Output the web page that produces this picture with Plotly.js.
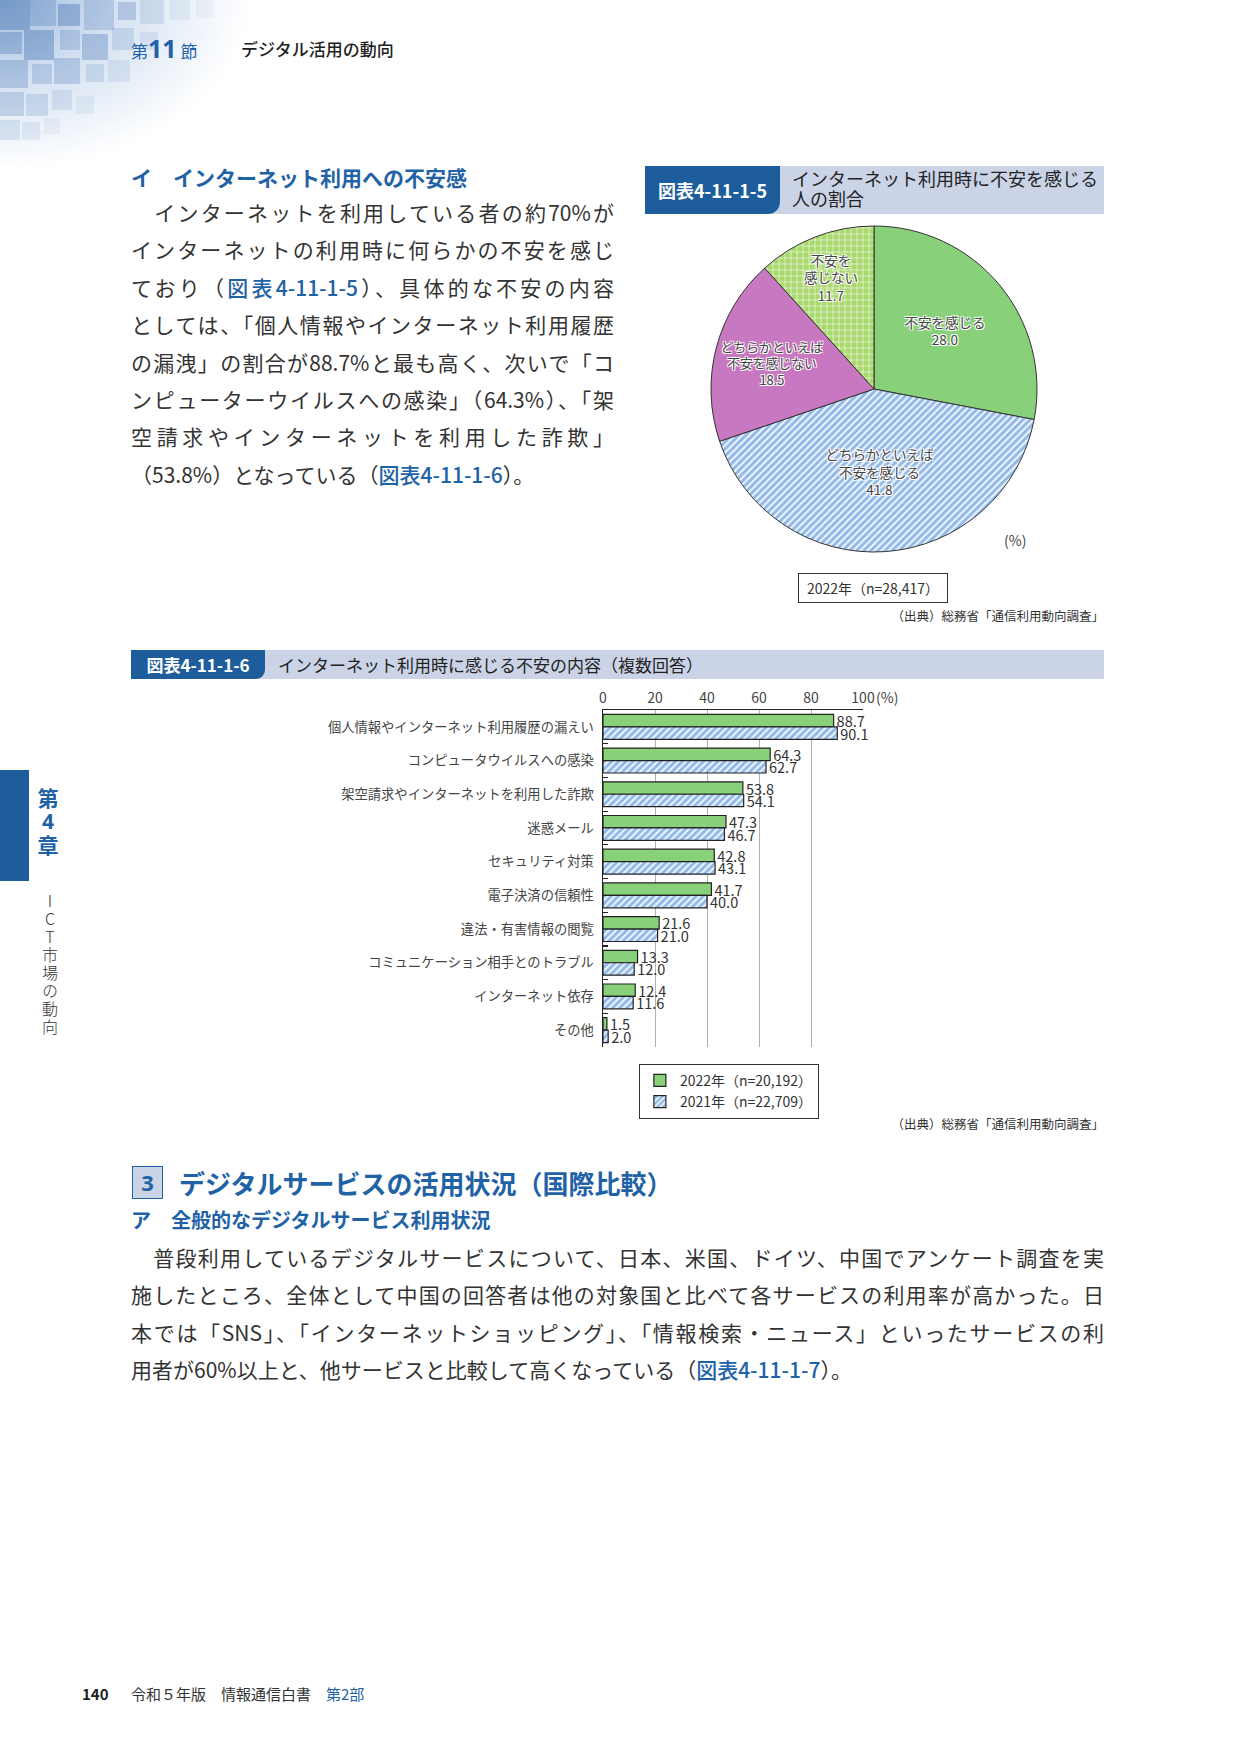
<!DOCTYPE html>
<html lang="ja">
<head>
<meta charset="utf-8">
<script src="https://cdn.plot.ly/plotly-3.0.1.min.js"></script>
<style>
  html, body { margin:0; padding:0; background:#fff; }
  #page { position:relative; width:1241px; height:1754px; overflow:hidden; background:#fff;
          font-family:"Noto Sans CJK JP","Noto Sans",sans-serif; color:#333; }
  .abs { position:absolute; white-space:nowrap; }
  .blue { color:#1f62a6; }
  .link { color:#1f62a6; font-weight:500; }
  .jline { position:absolute; text-align:justify; text-align-last:justify; white-space:nowrap; }
  .lline { position:absolute; text-align:left; white-space:nowrap; }
  .p1 { left:131px; width:483px; font-size:21px; height:37.4px; line-height:37.4px; color:#333; }
  .p2 { left:131px; width:973px; font-size:21px; height:37.4px; line-height:37.4px; color:#333; }
  .banner-dark { position:absolute; background:#1d5d9b; color:#fff; font-weight:700; border-bottom-right-radius:12px; }
  .banner-light { position:absolute; background:#cbd4e7; }
</style>
</head>
<body>
<div id="page">
  <div id="deco" class="abs" style="left:0;top:0;width:260px;height:175px;"></div>

  <div class="abs" style="left:131px;top:35px;font-size:17px;line-height:27px;">
    <span class="blue">第</span><span class="blue" style="font-size:25px;font-weight:700;font-family:'Noto Sans','Noto Sans CJK JP';">11</span><span class="blue"> 節</span>
  </div>
  <div class="abs" style="left:241px;top:36px;font-size:17px;line-height:26px;color:#222;font-weight:500;">デジタル活用の動向</div>

  <div class="abs blue" style="left:131px;top:164px;font-size:21px;font-weight:700;line-height:26px;">イ　インターネット利用への不安感</div>

  <div class="jline p1" style="top:194px;">　インターネットを利用している者の約70%が</div>
  <div class="jline p1" style="top:231.4px;">インターネットの利用時に何らかの不安を感じ</div>
  <div class="jline p1" style="top:268.8px;">ており（<span class="link">図表4-11-1-5</span>）、具体的な不安の内容</div>
  <div class="jline p1" style="top:306.2px;">としては、「個人情報やインターネット利用履歴</div>
  <div class="jline p1" style="top:343.6px;">の漏洩」の割合が88.7%と最も高く、次いで「コ</div>
  <div class="jline p1" style="top:381px;">ンピューターウイルスへの感染」（64.3%）、「架</div>
  <div class="jline p1" style="top:418.4px;">空請求やインターネットを利用した詐欺」</div>
  <div class="lline p1" style="top:455.8px;">（53.8%）となっている（<span class="link">図表4-11-1-6</span>）。</div>

  <!-- pie banner -->
  <div class="banner-light" style="left:645px;top:166px;width:459px;height:48px;"></div>
  <div class="banner-dark" style="left:645px;top:166px;width:135px;height:48px;font-size:18px;line-height:48px;text-align:center;">図表4-11-1-5</div>
  <div class="abs" style="left:792px;top:168px;font-size:18px;line-height:20px;color:#222;">インターネット利用時に不安を感じる<br>人の割合</div>

  <div id="pie" class="abs" style="left:704px;top:219px;width:340px;height:340px;"></div>
  <div class="abs" style="left:1004px;top:530px;font-size:14px;color:#444;">(%)</div>
  <div class="abs" style="left:798px;top:573px;width:148px;height:28px;border:1px solid #333;font-size:14px;line-height:28px;text-align:center;color:#333;">2022年（n=28,417）</div>
  <div class="abs" style="right:137px;top:606px;font-size:12.5px;color:#333;">（出典）総務省「通信利用動向調査」</div>

  <!-- bar banner -->
  <div class="banner-light" style="left:131px;top:650px;width:973px;height:29px;"></div>
  <div class="banner-dark" style="left:131px;top:650px;width:134px;height:29px;font-size:17px;line-height:29px;text-align:center;border-bottom-right-radius:9px;">図表4-11-1-6</div>
  <div class="abs" style="left:278px;top:651px;font-size:17px;line-height:28px;color:#222;">インターネット利用時に感じる不安の内容（複数回答）</div>

  <div id="bar" class="abs" style="left:131px;top:680px;width:900px;height:480px;"></div>
  <div class="abs" style="right:137px;top:1114px;font-size:12.5px;color:#333;">（出典）総務省「通信利用動向調査」</div>

  <!-- section 3 -->
  <div class="abs" style="left:132px;top:1166px;width:31px;height:33px;background:#cbd4e7;border:1px solid #1f62a6;box-sizing:border-box;font-size:22px;font-weight:700;line-height:31px;text-align:center;color:#1f62a6;font-family:'Noto Sans','Noto Sans CJK JP';">3</div>
  <div class="abs blue" style="left:179px;top:1167px;font-size:26px;font-weight:700;line-height:32px;">デジタルサービスの活用状況（国際比較）</div>
  <div class="abs blue" style="left:131px;top:1207px;font-size:20px;font-weight:700;line-height:26px;">ア　全般的なデジタルサービス利用状況</div>

  <div class="jline p2" style="top:1239px;">　普段利用しているデジタルサービスについて、日本、米国、ドイツ、中国でアンケート調査を実</div>
  <div class="jline p2" style="top:1276.4px;">施したところ、全体として中国の回答者は他の対象国と比べて各サービスの利用率が高かった。日</div>
  <div class="jline p2" style="top:1313.8px;">本では「SNS」、「インターネットショッピング」、「情報検索・ニュース」といったサービスの利</div>
  <div class="lline p2" style="top:1351.2px;">用者が60%以上と、他サービスと比較して高くなっている（<span class="link">図表4-11-1-7</span>）。</div>

  <!-- sidebar -->
  <div class="abs" style="left:0;top:770px;width:29px;height:111px;background:#1d5d9b;"></div>
  <div class="abs blue" style="left:36px;top:786px;width:24px;font-size:21px;font-weight:700;line-height:23px;white-space:normal;text-align:center;">第<br><span style="font-family:'Noto Sans','Noto Sans CJK JP';">4</span><br>章</div>
  <div class="abs" style="left:38px;top:893px;writing-mode:vertical-rl;text-orientation:upright;font-size:16px;font-weight:300;color:#333;letter-spacing:2px;">ICT市場の動向</div>

  <!-- footer -->
  <div class="abs" style="left:82px;top:1683px;font-size:15px;font-weight:700;color:#222;line-height:22px;">140</div>
  <div class="abs" style="left:131px;top:1683px;font-size:15px;color:#333;line-height:22px;">令和５年版　情報通信白書　<span class="blue">第2部</span></div>
</div>

<script>
// ---------- decoration (fixed layout of squares) ----------
var decoSquares = [
  [0,0,30,0.40],[30,0,26,0.25],[58,4,22,0.38],[84,0,30,0.22],[118,2,18,0.26],[140,0,24,0.14],[170,0,20,0.08],[196,0,18,0.05],
  [0,32,22,0.32],[24,30,30,0.38],[60,30,20,0.22],[82,34,26,0.30],[112,28,22,0.16],[140,32,18,0.10],
  [0,60,28,0.28],[32,64,20,0.22],[54,58,26,0.25],[86,64,18,0.16],[108,60,22,0.10],
  [0,92,24,0.22],[26,94,22,0.18],[52,90,20,0.13],[76,96,18,0.08],
  [0,120,20,0.14],[22,122,18,0.10],[44,118,16,0.06]
];
(function(){
  var d = document.getElementById('deco');
  d.style.background = 'radial-gradient(ellipse 250px 170px at 0px 0px, rgba(90,135,195,0.6) 0%, rgba(140,175,220,0.38) 45%, rgba(255,255,255,0) 100%)';
  decoSquares.forEach(function(s){
    var q = document.createElement('div');
    q.style.cssText = 'position:absolute;left:'+s[0]+'px;top:'+s[1]+'px;width:'+s[2]+'px;height:'+s[2]+'px;background:rgba(60,110,175,'+s[3]+');filter:blur(0.6px);';
    d.appendChild(q);
  });
})();

// ---------- pie data ----------
var pieLabels = ['不安を感じる', 'どちらかといえば<br>不安を感じる', 'どちらかといえば<br>不安を感じない', '不安を<br>感じない'];
var pieValues = [28.0, 41.8, 18.5, 11.7];

var pieText = pieLabels.map(function(l, i){ return l + '<br>' + pieValues[i].toFixed(1); });

Plotly.newPlot('pie', [{
  type: 'pie',
  values: pieValues,
  labels: pieLabels,
  text: pieText,
  textinfo: 'text',
  textposition: 'inside',
  insidetextorientation: 'horizontal',
  sort: false,
  direction: 'clockwise',
  rotation: 0,
  hoverinfo: 'none',
  marker: {
    colors: ['#88d07a', '#a9c9ee', '#c878c0', '#a9d86c'],
    line: { color: '#333', width: 1 },
    pattern: {
      shape: ['', '/', '', '+'],
      fgcolor: ['#88d07a', '#f2f7fd', '#c878c0', '#ffffff'],
      bgcolor: ['#88d07a', '#92b9e9', '#c878c0', '#a9d86c'],
      size: [8, 5, 8, 6],
      solidity: [0.2, 0.4, 0.2, 0.18],
      fillmode: 'replace'
    }
  },
  textfont: {
    family: 'Noto Sans CJK JP', size: 13.5, color: '#444',
    shadow: '1px 1px 0 #fff, -1px -1px 0 #fff, 1px -1px 0 #fff, -1px 1px 0 #fff'
  }
}], {
  width: 340, height: 340,
  margin: { l: 7, r: 7, t: 7, b: 7 },
  showlegend: false,
  paper_bgcolor: 'rgba(0,0,0,0)',
  font: { family: 'Noto Sans CJK JP' }
}, { staticPlot: true });

// ---------- bar data ----------
var categories = [
  '個人情報やインターネット利用履歴の漏えい',
  'コンピュータウイルスへの感染',
  '架空請求やインターネットを利用した詐欺',
  '迷惑メール',
  'セキュリティ対策',
  '電子決済の信頼性',
  '違法・有害情報の閲覧',
  'コミュニケーション相手とのトラブル',
  'インターネット依存',
  'その他'
];
var values2022 = [88.7, 64.3, 53.8, 47.3, 42.8, 41.7, 21.6, 13.3, 12.4, 1.5];
var values2021 = [90.1, 62.7, 54.1, 46.7, 43.1, 40.0, 21.0, 12.0, 11.6, 2.0];
var seriesNames = ['2022年（n=20,192）', '2021年（n=22,709）'];
var xTicks = [0, 20, 40, 60, 80, 100];

var textFont = { family: 'Noto Sans CJK JP', size: 14.5, color: '#333' };

Plotly.newPlot('bar', [
  {
    type: 'bar', orientation: 'h', name: seriesNames[0],
    y: categories, x: values2022,
    texttemplate: '%{x:.1f}', textposition: 'outside', textfont: textFont,
    cliponaxis: false, constraintext: 'none', hoverinfo: 'none',
    marker: { color: '#88d07a', line: { color: '#222', width: 1.2 } }
  },
  {
    type: 'bar', orientation: 'h', name: seriesNames[1],
    y: categories, x: values2021,
    texttemplate: '%{x:.1f}', textposition: 'outside', textfont: textFont,
    cliponaxis: false, constraintext: 'none', hoverinfo: 'none',
    marker: {
      color: '#a9c9ee', line: { color: '#222', width: 1.2 },
      pattern: { shape: '/', fgcolor: '#f2f7fd', bgcolor: '#92b9e9', size: 5, solidity: 0.4, fillmode: 'replace' }
    }
  }
], {
  width: 900, height: 480,
  margin: { l: 472, r: 168, t: 30, b: 113 },
  barmode: 'group', bargap: 0.26, bargroupgap: 0,
  paper_bgcolor: 'rgba(0,0,0,0)', plot_bgcolor: 'rgba(0,0,0,0)',
  font: { family: 'Noto Sans CJK JP', color: '#444', size: 14 },
  xaxis: {
    side: 'top', range: [0, 100], tickvals: xTicks, ticktext: xTicks.map(String),
    showgrid: true, gridcolor: '#b0b0b0', gridwidth: 1, zeroline: false,
    showline: true, linecolor: '#222', linewidth: 1.5, ticks: '',
    tickfont: { size: 14, color: '#444' }, fixedrange: true, automargin: false
  },
  yaxis: {
    type: 'category', autorange: 'reversed', showline: true, linecolor: '#222', linewidth: 1.5,
    ticks: 'inside', tickson: 'boundaries', ticklen: 5, tickcolor: '#222', tickwidth: 1.2,
    showgrid: false, ticklabelstandoff: 5, automargin: false,
    tickfont: { size: 13.3, color: '#444' }, fixedrange: true
  },
  legend: {
    x: 0.138, y: -0.05, xanchor: 'left', yanchor: 'top', traceorder: 'normal',
    bgcolor: '#fff', bordercolor: '#333', borderwidth: 1,
    font: { size: 14, color: '#333' }, tracegroupgap: 0, itemwidth: 30
  },
  annotations: [{
    text: '(%)', x: 100, xref: 'x', y: 1, yref: 'paper', xanchor: 'left', yanchor: 'middle',
    xshift: 11, yshift: 13, showarrow: false, font: { size: 14, color: '#444' }
  }]
}, { staticPlot: true });
</script>
</body>
</html>
